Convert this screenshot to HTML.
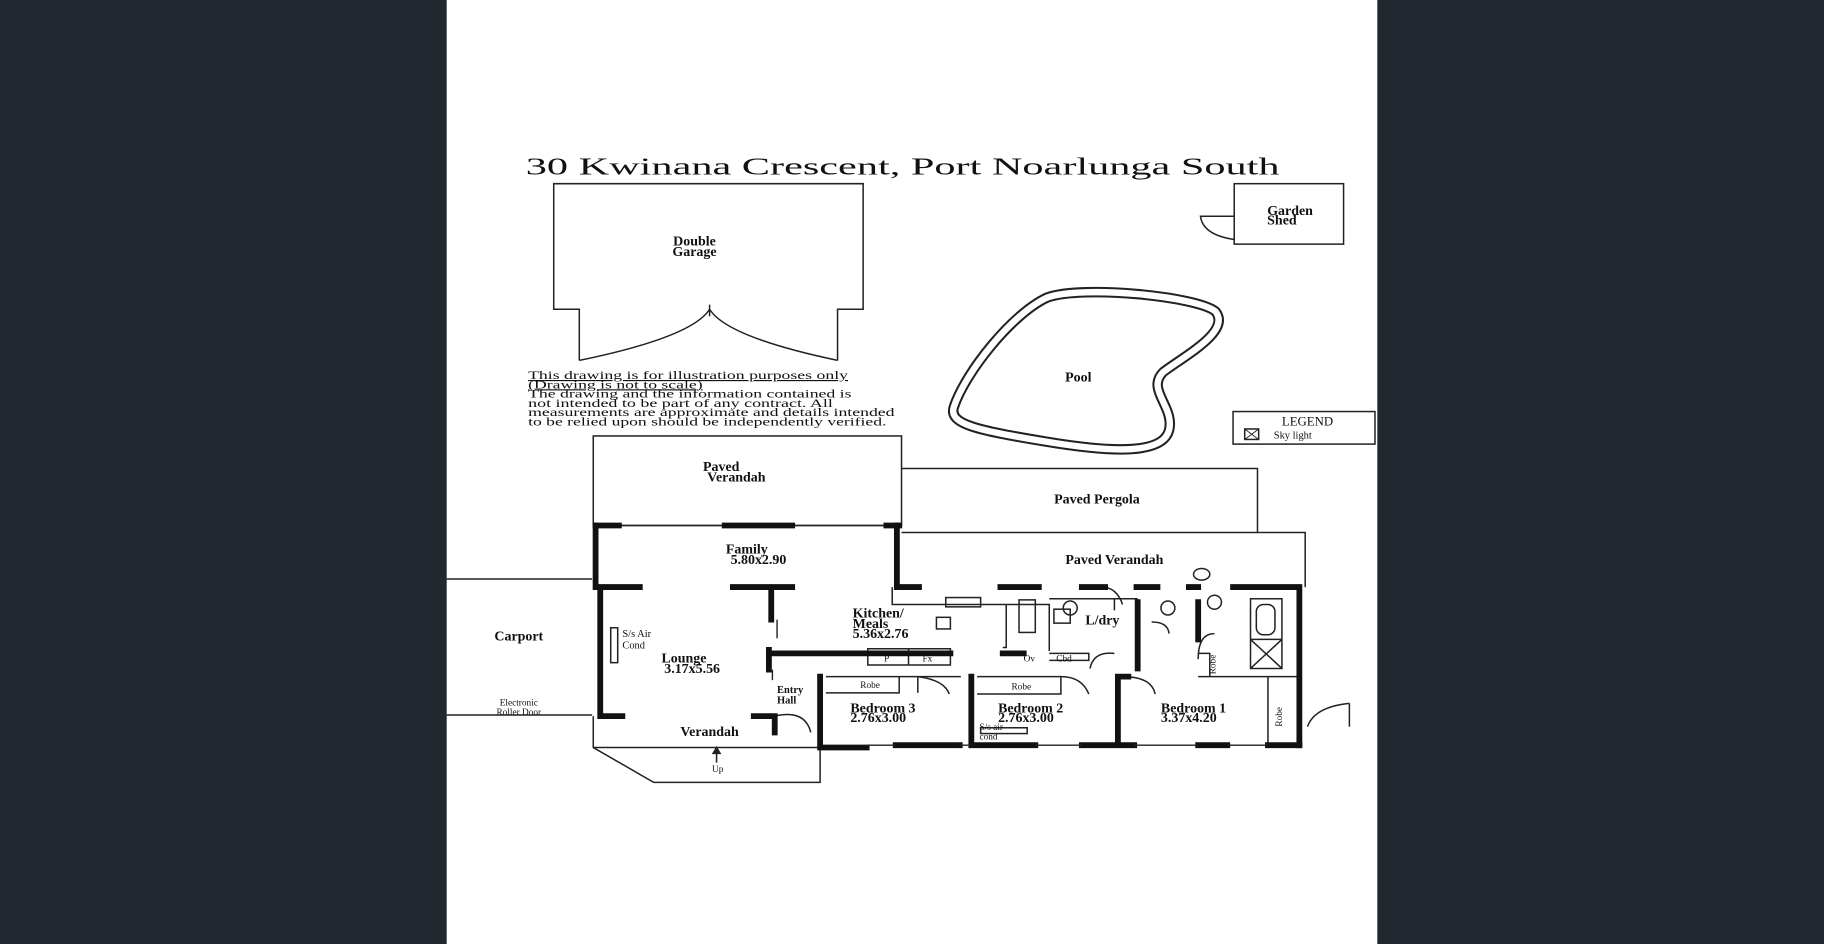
<!DOCTYPE html>
<html><head><meta charset="utf-8"><style>
html,body{margin:0;padding:0;background:#212830;}
svg{display:block}
text{font-family:"Liberation Serif",serif;fill:#111}
.b{font-weight:bold;font-size:12px}
.s{font-size:10px}
</style></head><body>
<svg width="1824" height="944" viewBox="0 0 1568 812" preserveAspectRatio="none" xmlns="http://www.w3.org/2000/svg">
<rect x="0" y="0" width="1568" height="812" fill="#212830"/>
<rect x="384" y="0" width="800" height="812" fill="#fff"/>
<g fill="none" stroke="#222" stroke-width="1.3">
<text x="452" y="150" style="font-size:21px" textLength="648" lengthAdjust="spacingAndGlyphs" stroke="none">30 Kwinana Crescent, Port Noarlunga South</text>
<path d="M498,310 V266 H476 V158 H742 V266 H720 V310"/>
<path d="M498,310 Q595,290 610,266 M720,310 Q625,290 610,266 M610,262 V272"/>
<text class="b" x="597" y="211" text-anchor="middle" stroke="none">Double</text>
<text class="b" x="597" y="220" text-anchor="middle" stroke="none">Garage</text>
<rect x="1061" y="158" width="94" height="52"/>
<path d="M1061,186 H1032 Q1034,202 1061,206"/>
<text class="b" x="1109" y="185" text-anchor="middle" stroke="none">Garden</text>
<text class="b" x="1102" y="193" text-anchor="middle" stroke="none">Shed</text>
<path d="M900,256 C930,245 1030,255 1045,268 C1058,285 1020,305 1000,320 C985,335 1010,350 1005,370 C1000,390 960,390 900,380 C840,370 815,365 820,350 C830,320 870,270 900,256 Z" stroke-width="9"/>
<path d="M900,256 C930,245 1030,255 1045,268 C1058,285 1020,305 1000,320 C985,335 1010,350 1005,370 C1000,390 960,390 900,380 C840,370 815,365 820,350 C830,320 870,270 900,256 Z" stroke="#fff" stroke-width="5.5"/>
<text class="b" x="927" y="328" text-anchor="middle" stroke="none">Pool</text>
<g stroke="none">
<text class="s" x="454" y="326" text-decoration="underline" textLength="275" lengthAdjust="spacingAndGlyphs">This drawing is for illustration purposes only</text>
<text class="s" x="454" y="334" text-decoration="underline" textLength="150" lengthAdjust="spacingAndGlyphs">(Drawing is not to scale)</text>
<text class="s" x="454" y="342" textLength="278" lengthAdjust="spacingAndGlyphs">The drawing and the information contained is</text>
<text class="s" x="454" y="350" textLength="262" lengthAdjust="spacingAndGlyphs">not intended to be part of any contract.  All</text>
<text class="s" x="454" y="358" textLength="315" lengthAdjust="spacingAndGlyphs">measurements are approximate and details intended</text>
<text class="s" x="454" y="366" textLength="308" lengthAdjust="spacingAndGlyphs">to be relied upon should be independently verified.</text>
</g>
<rect x="1060" y="354" width="122" height="28"/>
<text x="1124" y="366" text-anchor="middle" stroke="none" style="font-size:11px">LEGEND</text>
<rect x="1070" y="369" width="12" height="9"/>
<path d="M1070,369 L1082,378 M1082,369 L1070,378" stroke-width="0.8"/>
<text x="1095" y="377" stroke="none" style="font-size:9px">Sky light</text>
<rect x="510" y="375" width="265" height="77"/>
<text class="b" x="620" y="405" text-anchor="middle" stroke="none">Paved</text>
<text class="b" x="633" y="414" text-anchor="middle" stroke="none">Verandah</text>
<path d="M775,403 H1081 V458"/>
<text class="b" x="943" y="433" text-anchor="middle" stroke="none">Paved Pergola</text>
<path d="M775,458 H1122 V505"/>
<text class="b" x="958" y="485" text-anchor="middle" stroke="none">Paved Verandah</text>
<path d="M384,498 H509 M384,615 H509"/>
<text class="b" x="446" y="551" text-anchor="middle" stroke="none">Carport</text>
<text x="446" y="607" text-anchor="middle" stroke="none" style="font-size:8px">Electronic</text>
<text x="446" y="615" text-anchor="middle" stroke="none" style="font-size:8px">Roller Door</text>
<path d="M510,616 V643 L562,673 H705 V643 M510,643 H705"/>
<text class="b" x="610" y="633" text-anchor="middle" stroke="none">Verandah</text>
<path d="M616,656 V646"/><path d="M613,648 L616,643 L619,648 Z" fill="#222"/>
<text x="617" y="664" text-anchor="middle" stroke="none" style="font-size:8px">Up</text>
<path d="M532,452 H623 M681,452 H762"/>
<path d="M767,505 V520 H865 V557 H862 M865,520 H902 V560"/>
<path d="M746,558 H817 V572 H746 Z M781,558 V572"/>
<path d="M902,515 H978 M902,562 H936 V568 H902 M958,515 V525"/>
<path d="M710,582 H826 M710,596 H773 V582 M840,582 H912 V597 H840 M1030,562 H1040 V582 H1030 M1090,582 V641 M1034,582 H1117"/>
<path d="M1075,515 H1102 V550 H1075 Z M1075,550 H1102 V575 H1075 Z M1075,550 L1102,575 M1102,550 L1075,575"/>
<rect x="1080" y="520" width="16" height="26" rx="6"/>
<rect x="813" y="514" width="30" height="8"/>
<rect x="876" y="516" width="14" height="28"/>
<rect x="906" y="524" width="14" height="12"/>
<ellipse cx="920" cy="523" rx="6" ry="6"/>
<ellipse cx="1004" cy="523" rx="6" ry="6"/>
<ellipse cx="1044" cy="518" rx="6" ry="6"/>
<ellipse cx="1033" cy="494" rx="7" ry="5"/>
<rect x="525" y="540" width="6" height="30"/>
<rect x="843" y="626" width="40" height="5"/>
<rect x="805" y="531" width="12" height="10"/>
<path d="M666,616 Q692,610 697,630 M789,582 V596 M789,582 Q812,585 816,597 M912,582 Q930,582 936,597 M965,582 Q990,582 993,597 M1030,567 Q1030,545 1044,545 M947,505 Q960,505 965,520 M937,575 Q940,560 958,562 M990,535 Q1004,535 1005,545 M1124,625 Q1130,608 1160,605 M1160,605 V625"/>
</g>
<g fill="none" stroke="#111" stroke-width="5" stroke-linecap="square">
<path d="M512,452 H532 M623,452 H681 M762,452 H773"/>
<path d="M512,452 V505 H550 M630,505 H681 M663,505 V533 M516,505 V616 H535 M648,616 H666 V630"/>
<path d="M771,452 V505 H790 M860,505 H893 M930,505 H950 M977,505 H995 M1022,505 H1030 M1060,505 H1117 V641"/>
<path d="M661,559 V576 M661,562 H817 M862,562 H880 M978,518 V575 M1030,518 V550"/>
<path d="M705,582 V643 H745 M770,641 H825 M835,582 V641 H890 M930,641 H975 M961,582 V641 M961,582 H970 M1030,641 H1055 M1090,641 H1117"/>
</g>
<g fill="none" stroke="#222" stroke-width="1.2">
<path d="M745,641 H770 M825,641 H835 M890,641 H930 M975,641 H1030 M1055,641 H1090"/>
<path d="M668,533 V549 M664,576 V585"/>
</g>
<g stroke="none">
<text class="b" x="642" y="476" text-anchor="middle">Family</text>
<text class="b" x="652" y="485" text-anchor="middle">5.80x2.90</text>
<text class="b" x="733" y="531">Kitchen/</text>
<text class="b" x="733" y="540">Meals</text>
<text class="b" x="733" y="549">5.36x2.76</text>
<text x="760" y="569" style="font-size:8px">P</text>
<text x="793" y="569" style="font-size:8px">Fx</text>
<text x="880" y="569" style="font-size:8px">Ov</text>
<text x="908" y="569" style="font-size:8px">Cbd</text>
<text class="b" x="933" y="537">L/dry</text>
<text x="535" y="548" style="font-size:9px">S/s Air</text>
<text x="535" y="558" style="font-size:9px">Cond</text>
<text class="b" x="588" y="570" text-anchor="middle">Lounge</text>
<text class="b" x="595" y="579" text-anchor="middle">3.17x5.56</text>
<text class="b" x="668" y="596" style="font-size:9px">Entry</text>
<text class="b" x="668" y="605" style="font-size:9px">Hall</text>
<text x="748" y="592" text-anchor="middle" style="font-size:8px">Robe</text>
<text x="878" y="593" text-anchor="middle" style="font-size:8px">Robe</text>
<text class="b" x="731" y="613">Bedroom 3</text>
<text class="b" x="731" y="621">2.76x3.00</text>
<text class="b" x="858" y="613">Bedroom 2</text>
<text class="b" x="858" y="621">2.76x3.00</text>
<text x="842" y="628" style="font-size:8px">S/s air</text>
<text x="842" y="636" style="font-size:8px">cond</text>
<text class="b" x="998" y="613">Bedroom 1</text>
<text class="b" x="998" y="621">3.37x4.20</text>
<text x="1045" y="580" style="font-size:8px" transform="rotate(-90 1045 580)">Robe</text>
<text x="1102" y="625" style="font-size:8px" transform="rotate(-90 1102 625)">Robe</text>
</g>
</svg>
</body></html>
